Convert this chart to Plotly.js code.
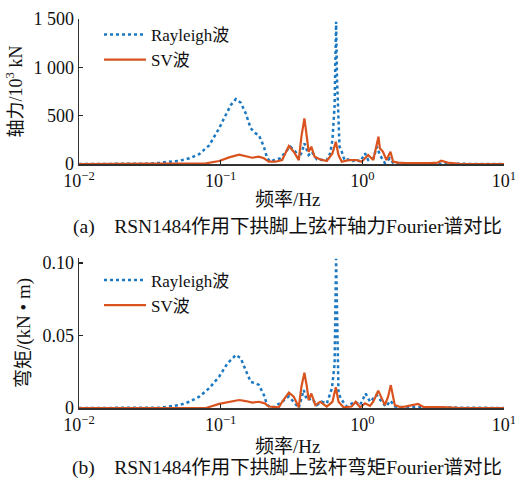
<!DOCTYPE html>
<html>
<head>
<meta charset="utf-8">
<script src="https://cdn.plot.ly/plotly-3.0.1.min.js"></script>
<style>html,body{margin:0;padding:0;background:#fff;}#chart{width:515px;height:480px;}</style>
</head>
<body>
<div id="chart"></div>
<script>
// ---- Data ----
// (a) axial force, 10^3 kN
const forceRayFreq = [0.01,0.025,0.03,0.037,0.0512,0.0601,0.0706,0.0829,0.0975,0.1086,0.118,0.128,0.1387,0.1503,0.163,0.1766,0.186,0.2018,0.213,0.225,0.2438,0.2648,0.287,0.311,0.3375,0.356,0.375,0.39,0.418,0.4406,0.4775,0.5176,0.561,0.593,0.615,0.637,0.645,0.653,0.662,0.679,0.69,0.716,0.748,0.789,0.841,0.912,0.964,1.045,1.10,1.195,1.27,1.33,1.40,1.443,1.564,1.65,1.79,2.0,2.47,3.0,3.41,4.0,4.48,10];
const forceRayVal  = [0,0,3,13,34,59,103,193,369,507,610,672,634,524,369,317,300,179,59,24,48,59,127,179,127,59,127,214,93,127,48,41,41,110,248,600,900,1472,900,450,180,127,41,48,24,48,24,110,41,59,179,93,41,10,59,10,8,5,6,4,6,3,2,0];
const forceSvFreq  = [0.01,0.06,0.0787,0.0975,0.1148,0.1349,0.1503,0.167,0.186,0.2018,0.2188,0.2438,0.2716,0.303,0.328,0.356,0.3715,0.39,0.4027,0.418,0.4365,0.46,0.5045,0.561,0.615,0.65,0.679,0.716,0.798,0.912,0.989,1.10,1.195,1.30,1.33,1.40,1.48,1.58,1.65,1.79,2.0,2.5,3.0,3.4,3.6,4.0,4.5,5.0,10];
const forceSvVal   = [0,0,7,31,69,96,83,65,76,59,24,24,41,186,127,41,283,472,317,127,179,76,48,31,110,231,93,24,41,41,24,93,41,283,162,127,41,127,24,14,10,8,10,14,34,14,3,0,0];

// (b) bending moment, kN·m
const momentRayFreq = [0.01,0.03,0.037,0.0512,0.0601,0.0706,0.0829,0.0975,0.1117,0.128,0.1387,0.1503,0.163,0.1766,0.186,0.2018,0.213,0.231,0.2577,0.2716,0.303,0.328,0.356,0.3855,0.406,0.44,0.4775,0.5176,0.561,0.61,0.637,0.653,0.668,0.679,0.716,0.776,0.889,0.964,1.055,1.133,1.26,1.367,1.47,1.58,1.7,2.0,3.0,4.5,10];
const momentRayVal  = [0,0,0.0002,0.002,0.0043,0.0078,0.0136,0.0216,0.0308,0.0366,0.0343,0.026,0.018,0.017,0.0159,0.009,0.002,0,0.003,0.0043,0.008,0.0043,0,0.0124,0.0055,0.0066,0.002,0.0043,0.003,0.0136,0.03,0.103,0.03,0.01,0.0055,0.001,0.0043,0.002,0.01,0.0043,0.009,0.0043,0.001,0.005,0.001,0.0005,0.0004,0.0002,0];
const momentSvFreq  = [0.01,0.07,0.0787,0.0975,0.1148,0.1349,0.1503,0.167,0.186,0.205,0.2188,0.2438,0.2577,0.2716,0.303,0.328,0.356,0.3715,0.39,0.406,0.418,0.4365,0.4656,0.5045,0.561,0.615,0.65,0.679,0.736,0.841,0.898,0.964,1.045,1.133,1.195,1.295,1.367,1.443,1.52,1.589,1.695,1.85,2.0,2.47,2.7,3.0,3.5,4.0,4.6,5.0,10];
const momentSvVal   = [0,0,0,0.0028,0.0043,0.0055,0.0048,0.0037,0.0043,0.0032,0.001,0.0005,0.0005,0.0043,0.0106,0.0078,0.0005,0.0147,0.0243,0.0147,0.0055,0.01,0.002,0.0043,0.001,0.0043,0.0143,0.0043,0.0005,0.001,0.0043,0.0005,0.0032,0.0014,0.0043,0.012,0.0067,0.002,0.0078,0.0158,0.002,0.0007,0.001,0.0028,0.0007,0.0005,0.0007,0.0005,0.0003,0,0];

const seriesNames = ['Rayleigh波', 'SV波'];
const xTickVals = [0.01, 0.1, 1, 10];
const xTickText = ['10<sup>−2</sup>', '10<sup>−1</sup>', '10<sup>0</sup>', '10<sup>1</sup>'];
const forceTickVals = [0, 500, 1000, 1500];
const forceTickText = ['0', '500', '1 000', '1 500'];
const momentTickVals = [0, 0.05, 0.10];
const momentTickText = ['0', '0.05', '0.10'];
const captions = ['(a)    RSN1484作用下拱脚上弦杆轴力Fourier谱对比', '(b)    RSN1484作用下拱脚上弦杆弯矩Fourier谱对比'];
const xTitle = '频率/Hz';
const yTitles = ['轴力/10<sup>3</sup> kN', '弯矩/(kN • m)'];

// ---- Styles ----
const FONT = 'Liberation Serif, Noto Sans CJK SC, serif';
const BLUE = '#1a78c2';
const ORANGE = '#d9531e';

const traces = [
  {x: forceRayFreq, y: forceRayVal, xaxis: 'x', yaxis: 'y', name: seriesNames[0], legend: 'legend',
   mode: 'lines', line: {color: BLUE, width: 2.5, dash: 'dot'}},
  {x: forceSvFreq, y: forceSvVal, xaxis: 'x', yaxis: 'y', name: seriesNames[1], legend: 'legend',
   mode: 'lines', line: {color: ORANGE, width: 2.2}},
  {x: momentRayFreq, y: momentRayVal, xaxis: 'x2', yaxis: 'y2', name: seriesNames[0], legend: 'legend2',
   mode: 'lines', line: {color: BLUE, width: 2.5, dash: 'dot'}},
  {x: momentSvFreq, y: momentSvVal, xaxis: 'x2', yaxis: 'y2', name: seriesNames[1], legend: 'legend2',
   mode: 'lines', line: {color: ORANGE, width: 2.2}}
];

function xAxis(anchor) {
  return {
    type: 'log', range: [-2.0002, 1.0002], anchor: anchor,
    tickvals: xTickVals, ticktext: xTickText,
    ticks: 'inside', ticklen: 4, tickwidth: 1.5, tickcolor: '#222',
    ticklabeloverflow: 'allow',
    showline: true, linecolor: '#333', linewidth: 1.5, mirror: false,
    showgrid: false, zeroline: false,
    tickfont: {family: FONT, size: 18, color: '#111'}
  };
}
function yAxis(anchor, domain, range, tv, tt, title, tsize) {
  return {
    anchor: anchor, domain: domain, range: range,
    tickvals: tv, ticktext: tt,
    ticks: 'inside', ticklen: 4, tickwidth: 1.5, tickcolor: '#222',
    showline: true, linecolor: '#333', linewidth: 1.5,
    showgrid: false, zeroline: false,
    tickfont: {family: FONT, size: 18, color: '#111'},
    title: {text: title, font: {family: FONT, size: tsize, color: '#111'}, standoff: 6}
  };
}

const legendStyle = {xanchor: 'left', yanchor: 'top', bgcolor: 'rgba(0,0,0,0)',
  itemwidth: 42, tracegroupgap: 0, font: {family: FONT, size: 17, color: '#111'}};

function note(text, py, size) {
  return {text: text, xref: 'paper', yref: 'paper', x: 0.49, y: (408 - py) / 389,
          xanchor: 'center', yanchor: 'middle', showarrow: false,
          font: {family: FONT, size: size, color: '#111'}};
}

const layout = {
  width: 515, height: 480,
  margin: {l: 79, r: 11, t: 19, b: 72},
  paper_bgcolor: '#fff', plot_bgcolor: '#fff',
  showlegend: true,
  xaxis: xAxis('y'),
  xaxis2: xAxis('y2'),
  yaxis: yAxis('x', [0.6272, 1], [0, 1500], forceTickVals, forceTickText, yTitles[0], 18),
  yaxis2: yAxis('x2', [0, 0.3856], [0, 0.1035], momentTickVals, momentTickText, yTitles[1], 19),
  legend: Object.assign({x: 0.047, y: 1.005}, legendStyle),
  legend2: Object.assign({x: 0.047, y: 0.374}, legendStyle),
  annotations: [
    note(xTitle, 199, 19),
    note(captions[0], 227, 19.5),
    note(xTitle, 446, 19),
    note(captions[1], 468, 19.5)
  ]
};

Plotly.newPlot('chart', traces, layout, {staticPlot: true, displayModeBar: false});
</script>
</body>
</html>
